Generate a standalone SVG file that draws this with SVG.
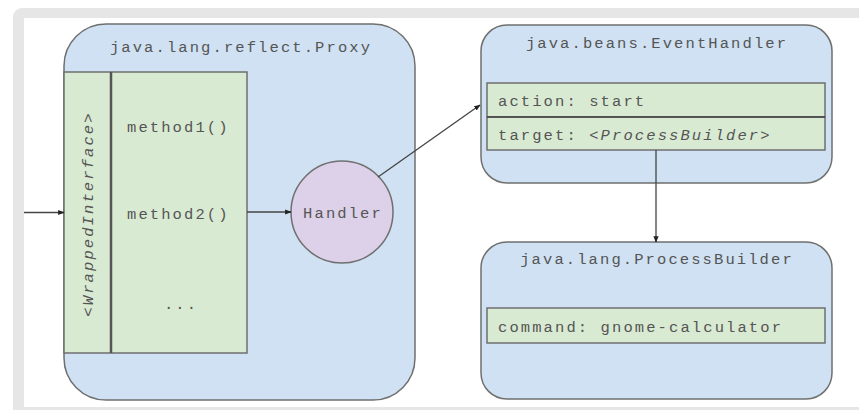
<svg xmlns="http://www.w3.org/2000/svg" width="859" height="410" viewBox="0 0 859 410">
<style>
.t{font-family:"Liberation Mono","Courier New",monospace;font-size:15.5px;letter-spacing:2.1px;fill:#555}
.box{fill:#cfe1f2;stroke:#6f6f6f;stroke-width:1.5}
.g{fill:#d9ead3;stroke:#6f6f6f;stroke-width:1.5}
.c{stroke:#444;stroke-width:1.3;fill:none}
</style>
<defs>
<marker id="ah" viewBox="0 0 10 10" refX="9" refY="5" markerWidth="5" markerHeight="5" orient="auto" markerUnits="strokeWidth">
<path d="M0,1 L10,5 L0,9 z" fill="#222"/>
</marker>
</defs>
<rect x="13" y="8" width="900" height="420" rx="9" fill="#e6e6e6"/>
<rect x="24" y="18" width="900" height="389" fill="#ffffff"/>
<g id="proxy">
<rect class="box" x="64" y="24" width="351" height="376" rx="42"/>
<text class="t" x="241" y="52" text-anchor="middle">java.lang.reflect.Proxy</text>
<rect class="g" x="64" y="72" width="183" height="281"/>
<line x1="111" y1="72" x2="111" y2="353" stroke="#555" stroke-width="2.5"/>
<text class="t" transform="translate(93,214) rotate(-90)" text-anchor="middle">&lt;<tspan font-style="italic">WrappedInterface</tspan>&gt;</text>
<text class="t" x="127" y="132">method1()</text>
<text class="t" x="127" y="219">method2()</text>
<text class="t" x="181" y="309" text-anchor="middle">...</text>
</g>
<g id="handler">
<circle cx="342" cy="212" r="51" fill="#dcd1e8" stroke="#6f6f6f" stroke-width="1.5"/>
<text class="t" x="343" y="218" text-anchor="middle">Handler</text>
</g>
<g id="eventhandler">
<rect class="box" x="481" y="25" width="351" height="158" rx="26"/>
<text class="t" x="657" y="48" text-anchor="middle">java.beans.EventHandler</text>
<rect class="g" x="487" y="83" width="338" height="34"/>
<rect class="g" x="487" y="117" width="338" height="33"/>
<line x1="487" y1="117" x2="825" y2="117" stroke="#444" stroke-width="1.5"/>
<text class="t" x="498" y="106">action: start</text>
<text class="t" x="498" y="140">target: <tspan font-style="italic">&lt;ProcessBuilder&gt;</tspan></text>
</g>
<g id="processbuilder">
<rect class="box" x="481" y="242" width="351" height="157" rx="26"/>
<text class="t" x="657" y="264" text-anchor="middle">java.lang.ProcessBuilder</text>
<rect class="g" x="487" y="308" width="338" height="35"/>
<text class="t" x="498" y="332">command: gnome-calculator</text>
</g>
<g id="connectors">
<line class="c" x1="24" y1="212.5" x2="64" y2="212.5" marker-end="url(#ah)"/>
<line class="c" x1="247" y1="212" x2="291" y2="212" marker-end="url(#ah)"/>
<line class="c" x1="378" y1="177" x2="480" y2="105" marker-end="url(#ah)"/>
<line class="c" x1="656" y1="150" x2="656" y2="242" marker-end="url(#ah)"/>
</g>
</svg>
